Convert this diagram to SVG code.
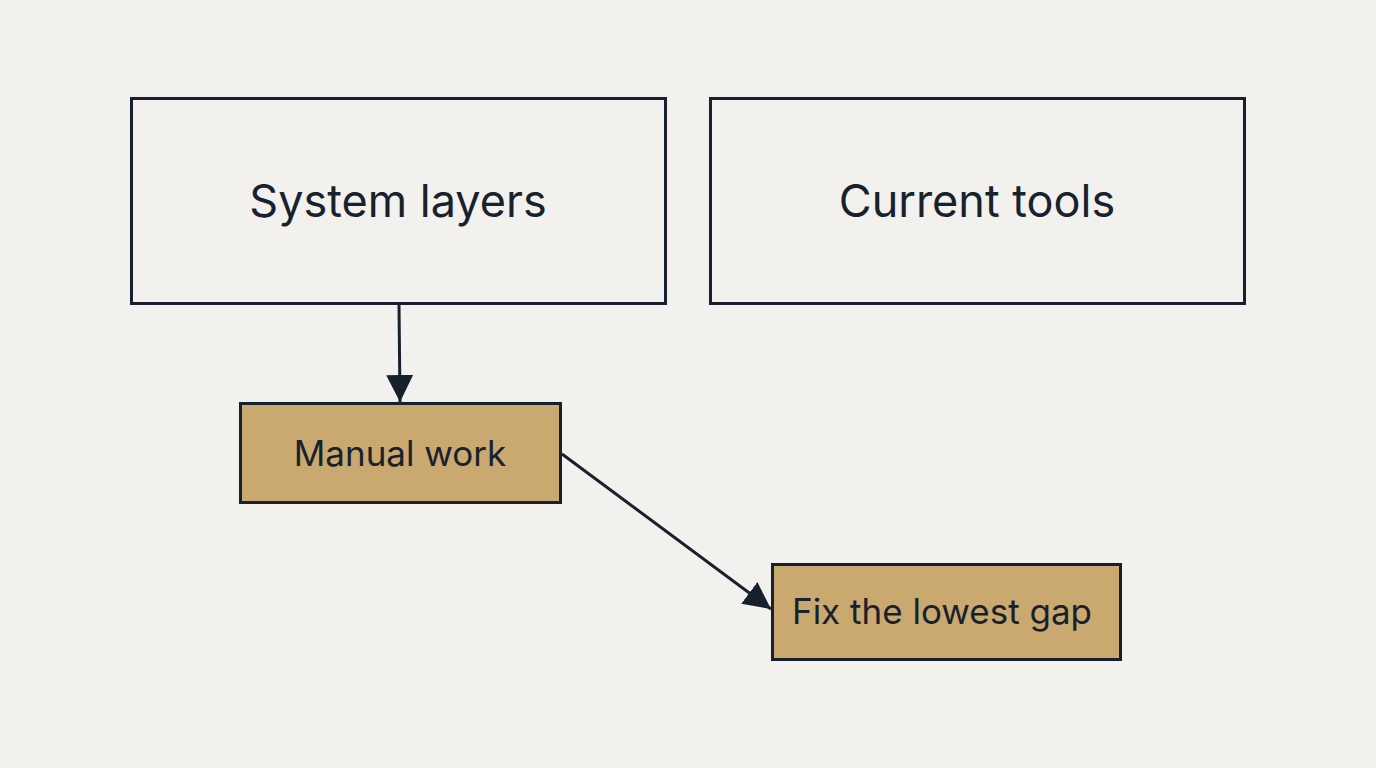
<svg xmlns="http://www.w3.org/2000/svg" width="1376" height="768" viewBox="0 0 1376 768">
<style>
.box{fill:none;stroke:#17212e;stroke-width:3}
.tan{fill:#c9a96f;stroke:#17212e;stroke-width:3}
.t{font-family:Inter,"Noto Sans",sans-serif;fill:#18222e;text-anchor:middle;dominant-baseline:central}
.big{font-size:45px}
.small{font-size:35px}
.edge{stroke:#17212e;stroke-width:3;fill:none}
</style>
<defs>
<marker id="ah2" viewBox="0 0 10 10" refX="10" refY="5" markerWidth="9" markerHeight="9" orient="auto">
<path d="M0,0 L10,5 L0,10 z" fill="#17212e"/>
</marker>
</defs>
<rect width="1376" height="768" fill="#f2f1ed"/>
<g id="connectors">
<line class="edge" x1="399" y1="305" x2="400" y2="402" marker-end="url(#ah2)"/>
<line class="edge" x1="562" y1="454" x2="771" y2="609" marker-end="url(#ah2)"/>
</g>
<g id="system-layers">
<rect class="box" x="131.5" y="98.5" width="534" height="205"/>
<text class="t big" x="398" y="200">System layers</text>
</g>
<g id="current-tools">
<rect class="box" x="710.5" y="98.5" width="534" height="205"/>
<text class="t big" x="977" y="200">Current tools</text>
</g>
<g id="manual-work">
<rect class="tan" x="240.5" y="403.5" width="320" height="99"/>
<text class="t small" x="400" y="453">Manual work</text>
</g>
<g id="fix-gap">
<rect class="tan" x="772.5" y="564.5" width="348" height="95"/>
<text class="t small" x="942" y="611">Fix the lowest gap</text>
</g>
</svg>
